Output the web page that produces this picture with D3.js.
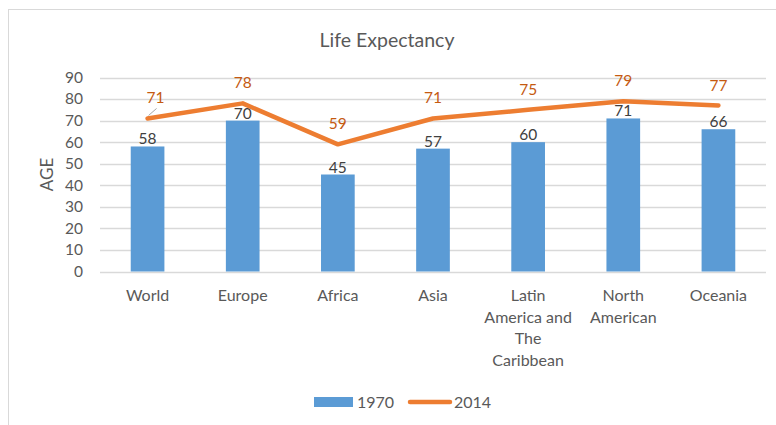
<!DOCTYPE html>
<html lang="en">
<head>
    <meta charset="utf-8">
    <title>life_expectancy</title>
    <script type="text/javascript" src="https://cdn.jsdelivr.net/npm/d3@7"></script>
    <style type="text/css">
        body { margin: 0; background: #fff; }
        text { font-family: Lato, "Open Sans", sans-serif; }
    </style>
</head>
<body>

<script type="text/javascript">

    var regions = ["World", "Europe", "Africa", "Asia",
        "Latin America and The Caribbean", "North American", "Oceania"];
    // how each category label wraps under the axis
    var region_lines = [["World"], ["Europe"], ["Africa"], ["Asia"],
        ["Latin", "America and", "The", "Caribbean"], ["North", "American"], ["Oceania"]];
    var values_1970 = [58, 70, 45, 57, 60, 71, 66];
    var values_2014 = [71, 78, 59, 71, 75, 79, 77];
    var y_ticks = [0, 10, 20, 30, 40, 50, 60, 70, 80, 90];

    var width = 776, height = 425;
    var plot = {left: 100, right: 766, top: 77.5, bottom: 271.5};

    var svg = d3.select("body")
        .append("svg")
        .attr("width", width)
        .attr("height", height);

    // chart frame (only top and left edges fall inside the picture)
    svg.append("rect")
        .attr("x", 8.5).attr("y", 9.5)
        .attr("width", 800).attr("height", 500)
        .attr("fill", "none")
        .attr("stroke", "#d9d9d9");

    var x = d3.scaleBand()
        .domain(regions)
        .range([plot.left, plot.right])
        .paddingInner(0.646)
        .paddingOuter(0.323);

    var x_center = d3.scalePoint()
        .domain(regions)
        .range([plot.left, plot.right])
        .padding(0.5);

    var y = d3.scaleLinear()
        .domain([0, 90])
        .range([plot.bottom, plot.top]);

    // gridlines
    svg.append("g")
        .selectAll("line")
        .data(y_ticks)
        .enter()
        .append("line")
        .attr("x1", plot.left)
        .attr("x2", plot.right)
        .attr("y1", d => Math.round(y(d)) + 0.5)
        .attr("y2", d => Math.round(y(d)) + 0.5)
        .attr("stroke", "#d9d9d9")
        .attr("stroke-width", 1.3);

    // y tick labels
    svg.append("g")
        .selectAll("text")
        .data(y_ticks)
        .enter()
        .append("text")
        .attr("x", 83)
        .attr("y", d => y(d))
        .attr("dy", "0.35em")
        .attr("text-anchor", "end")
        .attr("font-size", 15.5)
        .attr("fill", "#595959")
        .text(d => d);

    // axis title
    svg.append("text")
        .attr("transform", "translate(53," + ((plot.top + plot.bottom) / 2) + ") rotate(-90)")
        .attr("text-anchor", "middle")
        .attr("font-size", 17)
        .attr("fill", "#595959")
        .text("AGE");

    // title
    svg.append("text")
        .attr("x", 387)
        .attr("y", 47)
        .attr("text-anchor", "middle")
        .attr("font-size", 19.5)
        .attr("fill", "#595959")
        .text("Life Expectancy");

    // bars 1970
    svg.append("g")
        .selectAll("rect")
        .data(values_1970)
        .enter()
        .append("rect")
        .attr("x", (d, i) => x(regions[i]))
        .attr("y", d => y(d))
        .attr("width", x.bandwidth())
        .attr("height", d => plot.bottom - y(d))
        .attr("fill", "#5b9bd5");

    svg.append("g")
        .selectAll("text")
        .data(values_1970)
        .enter()
        .append("text")
        .attr("x", (d, i) => x_center(regions[i]))
        .attr("y", d => y(d) - 2)
        .attr("text-anchor", "middle")
        .attr("font-size", 15.5)
        .attr("fill", "#404040")
        .text(d => d);

    // line 2014
    var line = d3.line()
        .x((d, i) => x_center(regions[i]))
        .y(d => y(d));

    svg.append("path")
        .datum(values_2014)
        .attr("d", line)
        .attr("fill", "none")
        .attr("stroke", "#ed7d31")
        .attr("stroke-width", 4.5)
        .attr("stroke-linecap", "round")
        .attr("stroke-linejoin", "round");

    // leader line for the first label
    svg.append("line")
        .attr("x1", x_center(regions[0]) + 1)
        .attr("y1", y(values_2014[0]) - 3)
        .attr("x2", x_center(regions[0]) + 9)
        .attr("y2", y(values_2014[0]) - 10)
        .attr("stroke", "#a6a6a6")
        .attr("stroke-width", 1);

    svg.append("g")
        .selectAll("text")
        .data(values_2014)
        .enter()
        .append("text")
        .attr("x", (d, i) => x_center(regions[i]) + (i === 0 ? 8 : 0))
        .attr("y", d => y(d) - 15)
        .attr("text-anchor", "middle")
        .attr("font-size", 15.5)
        .attr("fill", "#c55a11")
        .text(d => d);

    // category labels
    var cat = svg.append("g")
        .selectAll("text")
        .data(region_lines)
        .enter()
        .append("text")
        .attr("x", (d, i) => x_center(regions[i]))
        .attr("y", 301)
        .attr("text-anchor", "middle")
        .attr("font-size", 16)
        .attr("fill", "#595959");

    cat.selectAll("tspan")
        .data(d => d)
        .enter()
        .append("tspan")
        .attr("x", function () { return d3.select(this.parentNode).attr("x"); })
        .attr("dy", (d, j) => j === 0 ? 0 : 21.7)
        .text(d => d);

    // legend
    var legend = svg.append("g");
    legend.append("rect")
        .attr("x", 314).attr("y", 397)
        .attr("width", 39).attr("height", 10)
        .attr("fill", "#5b9bd5");
    legend.append("text")
        .attr("x", 357).attr("y", 408)
        .attr("font-size", 16)
        .attr("fill", "#595959")
        .text("1970");
    legend.append("line")
        .attr("x1", 410).attr("x2", 450)
        .attr("y1", 402).attr("y2", 402)
        .attr("stroke", "#ed7d31")
        .attr("stroke-width", 4.5)
        .attr("stroke-linecap", "round");
    legend.append("text")
        .attr("x", 454).attr("y", 408)
        .attr("font-size", 16)
        .attr("fill", "#595959")
        .text("2014");

</script>
</body>
</html>
